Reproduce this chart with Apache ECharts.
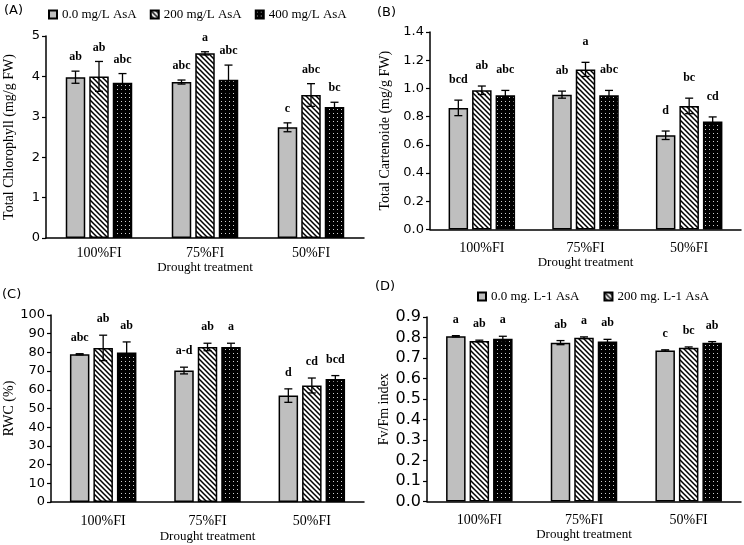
<!DOCTYPE html>
<html>
<head>
<meta charset="utf-8">
<script src="https://cdn.jsdelivr.net/npm/echarts@6/dist/echarts.min.js"></script>
<style>
  html, body { margin: 0; padding: 0; background: #fff; }
  #chart { width: 744px; height: 545px; }
</style>
</head>
<body>
<div id="chart"></div>
<script>
// categories (drought treatment)
const categories = ['100%FI', '75%FI', '50%FI'];
const doseNames = ['0.0 mg/L AsA', '200 mg/L AsA', '400 mg/L AsA'];
const doseNamesD = ['0.0 mg. L-1 AsA', '200 mg. L-1 AsA', '400 mg. L-1 AsA'];

// rows: 0.0, 200, 400 mg/L AsA ; columns: categories
const chlValues = [[3.98, 3.86, 2.74], [4.00, 4.57, 3.54], [3.84, 3.92, 3.24]];
const chlErrors = [[0.15, 0.05, 0.11], [0.37, 0.04, 0.28], [0.23, 0.36, 0.12]];
const chlLetters = [['ab', 'abc', 'c'], ['ab', 'a', 'abc'], ['abc', 'abc', 'bc']];

const carValues = [[0.862, 0.956, 0.668], [0.987, 1.135, 0.876], [0.951, 0.951, 0.765]];
const carErrors = [[0.055, 0.025, 0.03], [0.03, 0.05, 0.055], [0.035, 0.035, 0.033]];
const carLetters = [['bcd', 'ab', 'd'], ['ab', 'a', 'bc'], ['abc', 'abc', 'cd']];

const rwcValues = [[79.0, 70.3, 56.9], [82.4, 82.9, 62.3], [79.9, 82.9, 65.8]];
const rwcErrors = [[0.3, 1.8, 3.6], [6.8, 2.0, 4.0], [5.7, 2.0, 1.8]];
const rwcLetters = [['abc', 'a-d', 'd'], ['ab', 'ab', 'cd'], ['ab', 'a', 'bcd']];

const fvValues = [[0.806, 0.775, 0.737], [0.783, 0.799, 0.750], [0.794, 0.781, 0.775]];
const fvErrors = [[0.003, 0.010, 0.003], [0.004, 0.004, 0.004], [0.012, 0.010, 0.005]];
const fvLetters = [['a', 'ab', 'c'], ['ab', 'a', 'bc'], ['a', 'ab', 'ab']];

const SERIF = '"Liberation Serif", "DejaVu Serif", serif';
const SANS = '"DejaVu Sans", sans-serif';
const BAR_W = 19.5;
const BAR_GAP = 4;

function hatchPattern() {
  const s = 5;
  const c = document.createElement('canvas');
  c.width = s; c.height = s;
  const g = c.getContext('2d');
  g.fillStyle = '#fff';
  g.fillRect(0, 0, s, s);
  g.strokeStyle = '#000';
  g.lineWidth = 1.5;
  g.beginPath();
  g.moveTo(-1, -1); g.lineTo(s + 1, s + 1);
  g.moveTo(-s - 1, -1); g.lineTo(1, s + 1);
  g.moveTo(s - 1, -1); g.lineTo(2 * s + 1, s + 1);
  g.stroke();
  return c;
}

function dotPattern() {
  const c = document.createElement('canvas');
  c.width = 4; c.height = 4;
  const g = c.getContext('2d');
  g.fillStyle = '#000';
  g.fillRect(0, 0, 4, 4);
  g.fillStyle = '#cfcfcf';
  g.fillRect(1, 1, 1, 1);
  return c;
}

const fills = [
  '#bfbfbf',
  { image: hatchPattern(), repeat: 'repeat' },
  { image: dotPattern(), repeat: 'repeat' }
];

const panels = [
  { tag: '(A)', tagX: 4, tagY: 4, grid: { left: 46, top: 36, width: 318, height: 202 },
    values: chlValues, errors: chlErrors, letters: chlLetters, names: doseNames,
    min: 0, max: 5, interval: 1, digits: 0, yName: 'Total Chlorophyll (mg/g FW)', yGap: 30,
    tickFont: 13, labelMargin: 8, xGap: 22, letterGap: 8 },
  { tag: '(B)', tagX: 377, tagY: 6, grid: { left: 430, top: 32, width: 311, height: 197.5 },
    values: carValues, errors: carErrors, letters: carLetters, names: doseNames,
    min: 0, max: 1.4, interval: 0.2, digits: 1, yName: 'Total Cartenoide (mg/g FW)', yGap: 38,
    tickFont: 13, labelMargin: 12, xGap: 26, letterGap: 14 },
  { tag: '(C)', tagX: 2, tagY: 288, grid: { left: 51, top: 315, width: 313, height: 187 },
    values: rwcValues, errors: rwcErrors, letters: rwcLetters, names: doseNames,
    min: 0, max: 100, interval: 10, digits: 0, yName: 'RWC (%)', yGap: 35,
    tickFont: 13, labelMargin: 12, xGap: 28, letterGap: 10 },
  { tag: '(D)', tagX: 375, tagY: 280, grid: { left: 427, top: 317, width: 314, height: 184.5 },
    values: fvValues, errors: fvErrors, letters: fvLetters, names: doseNamesD,
    min: 0, max: 0.9, interval: 0.1, digits: 1, yName: 'Fv/Fm index', yGap: 36,
    tickFont: 16, labelMargin: 12, xGap: 27, letterGap: 10 }
];

const grid = [], xAxis = [], yAxis = [], series = [], graphic = [];

panels.forEach(function (p, pi) {
  grid.push(p.grid);
  xAxis.push({
    type: 'category', gridIndex: pi, data: categories,
    name: 'Drought treatment', nameLocation: 'middle', nameGap: p.xGap,
    nameTextStyle: { fontFamily: SERIF, fontSize: 13, color: '#000' },
    axisLine: { lineStyle: { color: '#000', width: 1.5 } },
    axisTick: { show: false },
    axisLabel: { fontFamily: SERIF, fontSize: 14, color: '#000', margin: p.labelMargin }
  });
  yAxis.push({
    type: 'value', gridIndex: pi, min: p.min, max: p.max, interval: p.interval,
    name: p.yName, nameLocation: 'middle', nameGap: p.yGap, nameRotate: 90,
    nameTextStyle: { fontFamily: SERIF, fontSize: 14, color: '#000' },
    splitLine: { show: false },
    axisLine: { show: true, lineStyle: { color: '#000', width: 1.5 } },
    axisTick: { show: true, length: 4, lineStyle: { color: '#000', width: 1.2 } },
    axisLabel: {
      fontFamily: SANS, fontSize: p.tickFont, color: '#000', margin: 6,
      formatter: function (v) { return v.toFixed(p.digits); }
    }
  });
  graphic.push({
    type: 'text', left: p.tagX, top: p.tagY,
    style: { text: p.tag, fontFamily: SANS, fontSize: 13, fill: '#000' }
  });

  p.values.forEach(function (vals, k) {
    series.push({
      name: p.names[k], type: 'bar', xAxisIndex: pi, yAxisIndex: pi,
      data: vals, barWidth: BAR_W, barGap: (BAR_GAP / BAR_W * 100) + '%',
      itemStyle: { color: fills[k], borderColor: '#000', borderWidth: 1.5 },
      emphasis: { disabled: true },
      z: 2
    });
  });

  p.values.forEach(function (vals, k) {
    const errs = p.errors[k];
    const letters = p.letters[k];
    series.push({
      type: 'custom', xAxisIndex: pi, yAxisIndex: pi, z: 5,
      silent: true,
      data: vals.map(function (v, i) { return [i, v, errs[i]]; }),
      renderItem: function (params, api) {
        const i = api.value(0), v = api.value(1), e = api.value(2);
        const off = (k - 1) * (BAR_W + BAR_GAP);
        const hi = api.coord([i, v + e]);
        const lo = api.coord([i, v - e]);
        const x = hi[0] + off;
        const cap = 4;
        const line = { stroke: '#000', lineWidth: 1.3 };
        return {
          type: 'group',
          children: [
            { type: 'line', shape: { x1: x, y1: hi[1], x2: x, y2: lo[1] }, style: line },
            { type: 'line', shape: { x1: x - cap, y1: hi[1], x2: x + cap, y2: hi[1] }, style: line },
            { type: 'line', shape: { x1: x - cap, y1: lo[1], x2: x + cap, y2: lo[1] }, style: line },
            { type: 'text', x: x, y: hi[1] - p.letterGap,
              style: { text: letters[params.dataIndex], fontFamily: SERIF, fontSize: 12,
                       fontWeight: 'bold', fill: '#000', align: 'center', verticalAlign: 'bottom' } }
          ]
        };
      }
    });
  });
});

const legendText = { fontFamily: SERIF, fontSize: 13, color: '#000' };

const chart = echarts.init(document.getElementById('chart'));
chart.setOption({
  backgroundColor: '#fff',
  animation: false,
  grid: grid,
  xAxis: xAxis,
  yAxis: yAxis,
  legend: [
    { data: doseNames, left: 48, top: 8, padding: 0, itemWidth: 8, itemHeight: 8, itemGap: 13,
      icon: 'rect', textStyle: legendText, selectedMode: false },
    { data: doseNamesD.slice(0, 2), left: 477, top: 290, padding: 0, itemWidth: 8, itemHeight: 8, itemGap: 24,
      icon: 'rect', textStyle: legendText, selectedMode: false }
  ],
  graphic: graphic,
  series: series
});
</script>
</body>
</html>
